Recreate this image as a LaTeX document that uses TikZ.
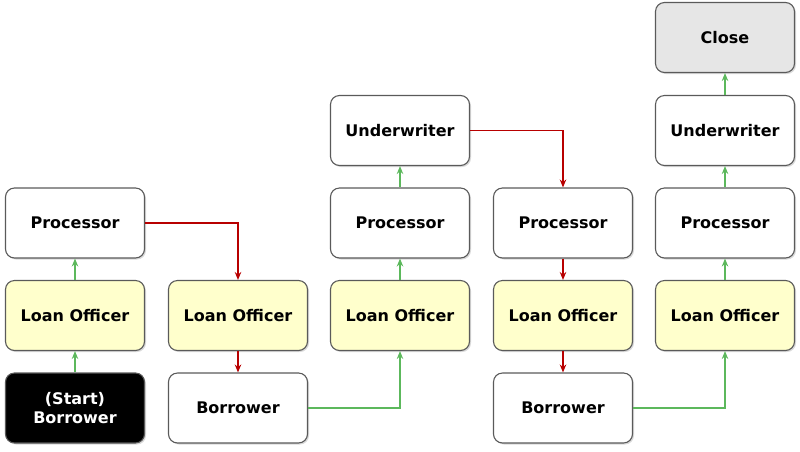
\documentclass[tikz,border=0pt]{standalone}
\usepackage{fontspec}
\setmainfont{DejaVu Sans}
\usetikzlibrary{shadows,arrows.meta}
\definecolor{boxline}{HTML}{5A5A5A}
\definecolor{officerfill}{HTML}{FFFFCC}
\definecolor{closefill}{HTML}{E6E6E6}
\definecolor{upgreen}{HTML}{5CB85C}
\definecolor{downred}{HTML}{B80000}
\begin{document}
\begin{tikzpicture}[x=1pt,y={(0,-1pt)},>={Stealth[length=8pt,width=6.5pt]},
    stage/.style={draw=boxline, line width=1.1pt, fill=white, rounded corners=9pt,
        minimum width=139pt, minimum height=70pt, inner sep=0pt, align=center,
        font=\bfseries\fontsize{16}{18.5}\selectfont,
        drop shadow={shadow xshift=1.5pt, shadow yshift=-1.5pt, opacity=0.3}},
    officer/.style={stage, fill=officerfill},
    startbox/.style={stage, fill=black, text=white},
    closebox/.style={stage, fill=closefill},
    up/.style={->, draw=upgreen, line width=1.2pt},
    down/.style={->, draw=downred, line width=1.2pt}]
        \useasboundingbox (0,0) rectangle (800,451);
        %% column 1
        \node[startbox] (start) at (75,408) {(Start)\\Borrower};
        \node[officer] (officerA) at (75,315.5) {Loan Officer};
        \node[stage] (procA) at (75,223) {Processor};
        %% column 2
        \node[officer] (officerB) at (238,315.5) {Loan Officer};
        \node[stage] (borrowerB) at (238,408) {Borrower};
        %% column 3
        \node[officer] (officerC) at (400,315.5) {Loan Officer};
        \node[stage] (procC) at (400,223) {Processor};
        \node[stage] (underC) at (400,130.5) {Underwriter};
        %% column 4
        \node[stage] (procD) at (563,223) {Processor};
        \node[officer] (officerD) at (563,315.5) {Loan Officer};
        \node[stage] (borrowerD) at (563,408) {Borrower};
        %% column 5
        \node[officer] (officerE) at (725,315.5) {Loan Officer};
        \node[stage] (procE) at (725,223) {Processor};
        \node[stage] (underE) at (725,130.5) {Underwriter};
        \node[closebox] (close) at (725,37.5) {Close};
        %% flow
        \draw[up] (start) -- (officerA);
        \draw[up] (officerA) -- (procA);
        \draw[down] (procA.east) -| (officerB.north);
        \draw[down] (officerB) -- (borrowerB);
        \draw[up] (borrowerB.east) -| (officerC.south);
        \draw[up] (officerC) -- (procC);
        \draw[up] (procC) -- (underC);
        \draw[down] (underC.east) -| (procD.north);
        \draw[down] (procD) -- (officerD);
        \draw[down] (officerD) -- (borrowerD);
        \draw[up] (borrowerD.east) -| (officerE.south);
        \draw[up] (officerE) -- (procE);
        \draw[up] (procE) -- (underE);
        \draw[up] (underE) -- (close);
    \end{tikzpicture}
\end{document}
